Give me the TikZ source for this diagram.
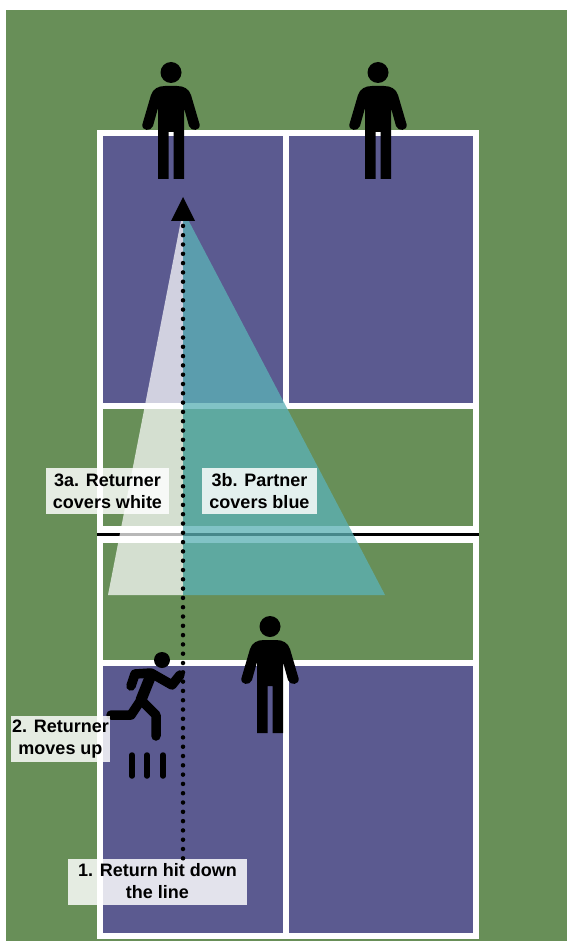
\documentclass[tikz,border=0pt]{standalone}
\usepackage{fontspec}
\setmainfont{Liberation Sans}
\usepackage{xcolor}
\definecolor{courtgreen}{HTML}{688F58}
\definecolor{courtblue}{HTML}{5B5A90}
\definecolor{coverteal}{HTML}{5CB2B6}
\tikzset{
  courtline/.style={white,line width=6pt},
  limb/.style={black,line width=9.5pt,line cap=round,line join=round},
  note/.style={fill=white,fill opacity=.83,text opacity=1,align=center,inner sep=0pt,
    font=\fontsize{18}{22}\selectfont\bfseries,minimum height=46pt},
  pics/player/.style={code={
    \fill (0,-13.5) circle (10.5);
    \fill (-6,0) -- (6,0) .. controls (13,0) and (18,3) .. (20,9)
      -- (28.5,38) .. controls (30,45) and (20,46) .. (18,40)
      -- (13,22) -- (13,93) -- (2.5,93) -- (2.5,46) -- (-2.5,46) -- (-2.5,93) -- (-13,93)
      -- (-13,22) -- (-18,40) .. controls (-20,46) and (-30,45) .. (-28.5,38)
      -- (-20,9) .. controls (-18,3) and (-13,0) .. (-6,0) -- cycle;
  }}
}
\begin{document}
\begin{tikzpicture}[x=1pt,y=-1pt]
  \useasboundingbox (0,0) rectangle (567,941);
  \fill[courtgreen] (6,10) rectangle (567,941);

  % service boxes
  \fill[courtblue] (100,133) rectangle (476,406);
  \fill[courtblue] (100,663) rectangle (476,936);

  % court lines
  \draw[courtline] (100,133) rectangle (476,936);
  \draw[courtline] (100,406) -- (476,406);
  \draw[courtline] (100,663) -- (476,663);
  \draw[courtline] (286,133) -- (286,406);
  \draw[courtline] (286,663) -- (286,936);
  \draw[white,line width=16.5pt] (100,534.5) -- (476,534.5);
  \draw[line width=3.5pt] (97,534.5) -- (479,534.5);

  % coverage
  \coordinate (apex) at (183,210);
  \coordinate (basemid) at (183,595);
  \fill[white,opacity=.72] (apex) -- (108,595) -- (basemid) -- cycle;
  \fill[coverteal,opacity=.77] (apex) -- (basemid) -- (385,595) -- cycle;

  \pic at (171,86) {player};
  \pic at (378,86) {player};
  \pic at (270,640) {player};

  % runner
  \node[circle,fill,inner sep=0pt,minimum size=16pt] (runnerhead) at (162,660) {};
  \draw[limb] (131,686) -- (135,674) -- (151,673) -- (172,685) -- (180,675);
  \draw[limb,line width=11pt] (151,675) -- (141,700);
  \draw[limb] (141,700) -- (131,715) -- (111,715);
  \draw[limb] (141,700) -- (156,715) -- (156,736);
  \foreach \x in {132,147,163}
    \draw[line width=5.5pt,line cap=round] (\x,755) -- (\x,776);

  % labels
  \node[note,minimum width=123pt] (returner) at (107.5,491) {3a. Returner\\covers white};
  \node[note,minimum width=115pt] (partner) at (259.5,491) {3b. Partner\\covers blue};
  \node[note,minimum width=99pt] (moves) at (60.5,739) {2. Returner\\moves up};
  \node[note,minimum width=179pt] (hit) at (157.5,881.5) {1. Return hit down\\the line};

  % ball path
  \coordinate (balltip) at (183,221);
  \draw[line width=4.5pt,line cap=round,dash pattern=on 0pt off 9.3pt] (hit.north -| balltip) -- (balltip);
  \fill (183,197) -- (195,221) -- (171,221) -- cycle;
\end{tikzpicture}
\end{document}
